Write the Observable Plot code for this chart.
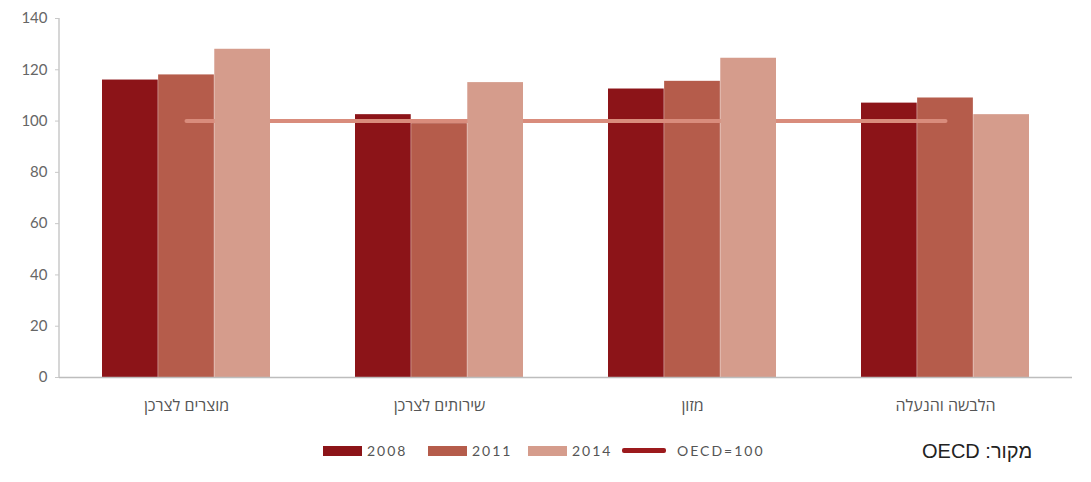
<!DOCTYPE html>
<html>
<head>
<meta charset="utf-8">
<script src="https://cdn.jsdelivr.net/npm/d3@7"></script>
<script src="https://cdn.jsdelivr.net/npm/@observablehq/plot@0.6"></script>
<style>
  html, body { margin: 0; padding: 0; background: #fff; }
  #wrap { position: relative; width: 1091px; height: 482px; font-family: "Lato", "Open Sans", sans-serif; }
  #legend { position: absolute; left: 323px; top: 442px; display: flex; align-items: center; font-size: 14px; color: #555; letter-spacing: 2px; }
  #legend .item { display: flex; align-items: center; }
  #legend .sw { width: 39px; height: 10px; margin-right: 5px; }
  #legend .ln { width: 44px; height: 5px; margin-right: 11px; border-radius: 2px; }
  #source { position: absolute; left: 922px; top: 440px; font-family: "Liberation Sans", Arial, sans-serif; font-size: 20px; color: #222; direction: rtl; }
</style>
</head>
<body>
<div id="wrap">
  <div id="chart"></div>
  <div id="legend"></div>
  <div id="source">מקור: OECD</div>
</div>
<script>
const categories = ["מוצרים לצרכן", "שירותים לצרכן", "מזון", "הלבשה והנעלה"];
const years = ["2008", "2011", "2014"];
const v2008 = [116, 102.5, 112.5, 107];
const v2011 = [118, 99, 115.5, 109];
const v2014 = [128, 115, 124.5, 102.5];
const oecdValue = [100, 100, 100, 100];
const oecdLabel = "OECD=100";
const yTicks = [0, 20, 40, 60, 80, 100, 120, 140];
const colors = {"2008": "#8c1418", "2011": "#b55c4b", "2014": "#d59c8c"};
const lineColor = "#d98c7c";
const legendLineColor = "#9c1a1d";

const rows = [];
const series = {"2008": v2008, "2011": v2011, "2014": v2014};
years.forEach(yr => categories.forEach((c, i) => rows.push({category: c, year: yr, value: series[yr][i]})));
const oecd = categories.map((c, i) => ({category: c, value: oecdValue[i]}));

const W = 1091, ml = 59, mr = 19, pad = 0.335;
const step = (W - ml - mr) / categories.length;
const bw = step * (1 - pad);
const third = bw / 3;
const insets = {"2008": [0, 2 * third], "2011": [third, third], "2014": [2 * third, 0]};

const barsFor = yr => Plot.barY(rows.filter(d => d.year === yr), {
  x: "category", y: "value", fill: colors[yr],
  insetLeft: insets[yr][0], insetRight: insets[yr][1]
});

const plot = Plot.plot({
  width: W,
  height: 420,
  marginLeft: ml,
  marginRight: mr,
  marginTop: 18,
  marginBottom: 43,
  style: {fontFamily: "Lato, 'Open Sans', sans-serif", fontSize: "14px", color: "#666", background: "#fff"},
  x: {domain: categories, paddingInner: pad, paddingOuter: pad / 2, label: null},
  y: {domain: [0, 140], ticks: yTicks, label: null},
  marks: [
    Plot.axisY({ticks: yTicks, tickSize: 4, tickPadding: 8, stroke: "#c8c8c8", fill: "#666", fontSize: 15, style: {letterSpacing: "1px"}, label: null}),
    Plot.axisX({tickSize: 0, tickPadding: 22, fill: "#555", fontSize: 16, fontFamily: "'Open Sans', 'Liberation Sans', sans-serif", label: null}),
    barsFor("2008"),
    barsFor("2011"),
    Plot.lineY(oecd, {x: "category", y: "value", stroke: lineColor, strokeWidth: 4}),
    barsFor("2014"),
    Plot.ruleY([0], {stroke: "#bdbdbd", strokeWidth: 1.5})
  ]
});

const xs = plot.scale("x"), ys = plot.scale("y");
d3.select(plot).append("line")
  .attr("x1", xs.range[0]).attr("x2", xs.range[0])
  .attr("y1", ys.apply(0)).attr("y2", ys.apply(140))
  .attr("stroke", "#c8c8c8").attr("stroke-width", 1.5);

document.getElementById("chart").appendChild(plot);

const legend = document.getElementById("legend");
const itemWidths = [105, 100, 94];
years.forEach((yr, i) => {
  const it = document.createElement("div");
  it.className = "item";
  it.style.width = itemWidths[i] + "px";
  it.innerHTML = `<span class="sw" style="background:${colors[yr]}"></span><span>${yr}</span>`;
  legend.appendChild(it);
});
const li = document.createElement("div");
li.className = "item";
li.innerHTML = `<span class="ln" style="background:${legendLineColor}"></span><span>${oecdLabel}</span>`;
legend.appendChild(li);
</script>
</body>
</html>
